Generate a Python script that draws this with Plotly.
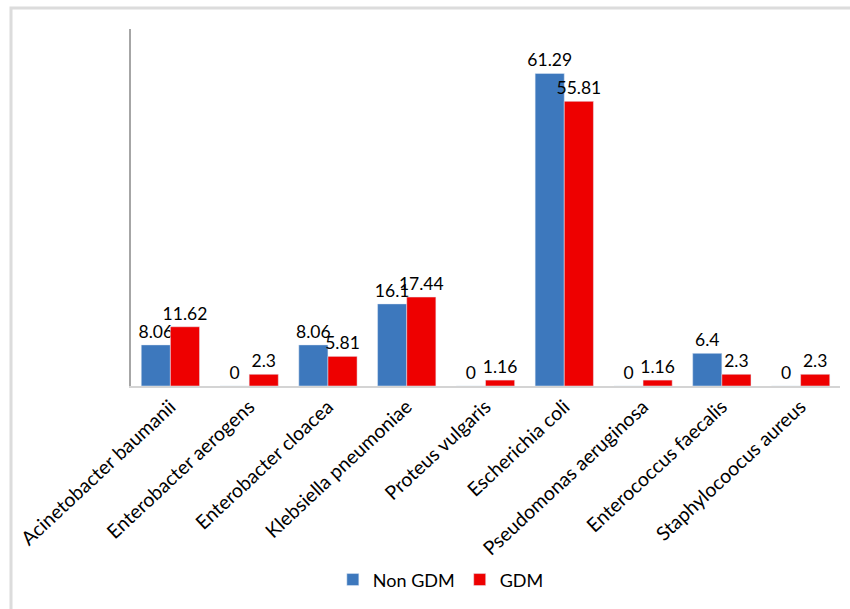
import plotly.graph_objects as go

categories = ["Acinetobacter baumanii", "Enterobacter aerogens", "Enterobacter cloacea",
              "Klebsiella pneumoniae", "Proteus vulgaris", "Escherichia coli",
              "Pseudomonas aeruginosa", "Enterococcus faecalis", "Staphylocoocus aureus"]
non_gdm = [8.06, 0, 8.06, 16.1, 0, 61.29, 0, 6.4, 0]
gdm = [11.62, 2.3, 5.81, 17.44, 1.16, 55.81, 1.16, 2.3, 2.3]

FONT = "Lato, 'Open Sans', sans-serif"

fig = go.Figure()
fig.add_trace(go.Bar(name="Non GDM", x=categories, y=non_gdm, marker_color="#3d78bd",
                     text=[str(v) for v in non_gdm], textposition="outside", cliponaxis=False,
                     constraintext="none",
                     textfont=dict(size=17.5, color="black", family=FONT)))
fig.add_trace(go.Bar(name="GDM", x=categories, y=gdm, marker_color="#ee0000",
                     text=[str(v) for v in gdm], textposition="outside", cliponaxis=False,
                     constraintext="none",
                     textfont=dict(size=17.5, color="black", family=FONT)))

fig.update_layout(
    width=850, height=609,
    margin=dict(l=131, r=10, t=29, b=221),
    paper_bgcolor="white", plot_bgcolor="white",
    barmode="group", bargap=0.26, bargroupgap=0,
    font=dict(family=FONT, color="black"),
    xaxis=dict(tickangle=-43, showline=True, linecolor="#d4d4d4", linewidth=1.5,
               ticks="", tickfont=dict(size=19.5, color="black", family=FONT),
               showgrid=False, fixedrange=True),
    yaxis=dict(range=[0, 70], showline=True, linecolor="#a6a6a6", linewidth=2,
               showticklabels=False, ticks="", showgrid=False, zeroline=False),
    legend=dict(orientation="h", x=0.437, xanchor="center", y=-0.543, yanchor="middle",
                font=dict(size=18, family=FONT, color="black"), itemwidth=30),
    shapes=[dict(type="rect", xref="paper", yref="paper",
                 x0=(11 - 131) / 709, x1=1.2, y0=(388 - 8) / 359, y1=-0.8,
                 line=dict(color="#dcdcdc", width=3), layer="below")],
)

fig.write_html("out.html")
